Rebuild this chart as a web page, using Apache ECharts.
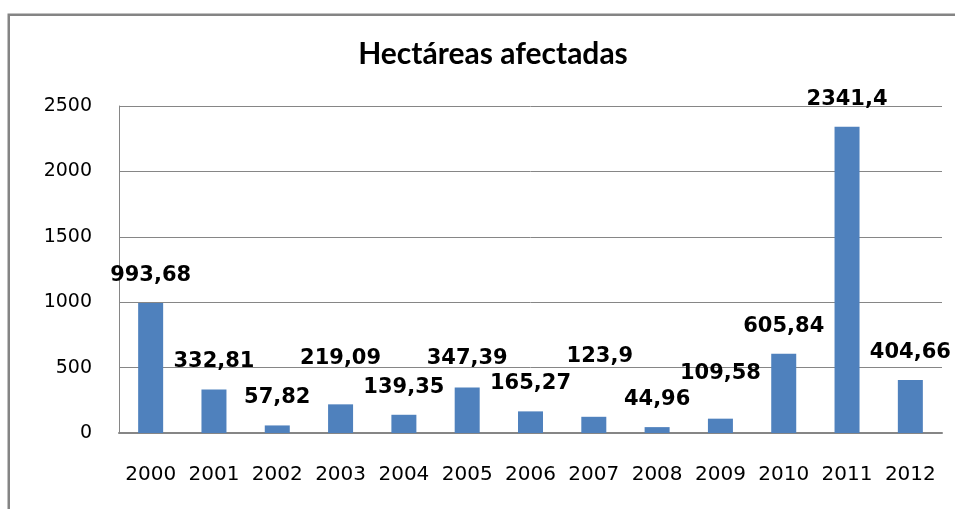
<!DOCTYPE html>
<html>
<head>
<meta charset="utf-8">
<script src="https://cdn.jsdelivr.net/npm/echarts@6/dist/echarts.min.js"></script>
<style>html,body{margin:0;padding:0;background:#fff;}#c{width:955px;height:509px;}</style>
</head>
<body>
<div id="c"></div>
<script>
var years = ['2000','2001','2002','2003','2004','2005','2006','2007','2008','2009','2010','2011','2012'];
var hectares = [993.68, 332.81, 57.82, 219.09, 139.35, 347.39, 165.27, 123.9, 44.96, 109.58, 605.84, 2341.4, 404.66];
var valueLabels = ['993,68','332,81','57,82','219,09','139,35','347,39','165,27','123,9','44,96','109,58','605,84','2341,4','404,66'];
var yTicks = [0, 500, 1000, 1500, 2000, 2500];

// label nudges (style only)
var labelNudge = [[0,0],[0,0],[0,0],[0,-18],[0,0],[0,-2],[0,0],[6,-33],[0,0],[0,-18],[0,0],[0,0],[0,0]];

var chart = echarts.init(document.getElementById('c'));
chart.setOption({
  animation: false,
  backgroundColor: '#ffffff',
  graphic: [{
    type: 'rect',
    shape: { x: 8.75, y: 14.75, width: 1100, height: 700 },
    style: { fill: 'none', stroke: '#848484', lineWidth: 2.5 },
    silent: true
  }],
  title: {
    text: 'Hectáreas afectadas',
    left: 488, top: 34, textAlign: 'center',
    textStyle: { fontFamily: 'Lato', fontWeight: 'bold', fontSize: 30, color: '#000' }
  },
  grid: { left: 119, right: 13, top: 106, bottom: 76, containLabel: false },
  xAxis: {
    type: 'category',
    data: years,
    axisLine: { show: true, lineStyle: { color: '#868686', width: 2 } },
    axisTick: { show: false },
    axisLabel: { interval: 0, margin: 32, fontFamily: 'DejaVu Sans', fontSize: 20, color: '#000' }
  },
  yAxis: {
    type: 'value',
    min: yTicks[0], max: yTicks[yTicks.length - 1], interval: yTicks[1] - yTicks[0],
    axisLine: { show: true, lineStyle: { color: '#868686', width: 1 } },
    axisTick: { show: false },
    splitLine: { show: true, lineStyle: { color: '#868686', width: 1 } },
    axisLabel: { margin: 27, fontFamily: 'DejaVu Sans', fontSize: 19, color: '#000',
      formatter: function (v) { return String(v); } }
  },
  series: [{
    type: 'bar',
    barWidth: 25,
    itemStyle: { color: '#4F81BD' },
    data: hectares.map(function (v, i) {
      return {
        value: v,
        label: { show: true, position: 'top', distance: 17, offset: labelNudge[i], formatter: valueLabels[i] }
      };
    }),
    label: { fontFamily: 'DejaVu Sans', fontWeight: 'bold', fontSize: 21, color: '#000' }
  }]
});
</script>
</body>
</html>
